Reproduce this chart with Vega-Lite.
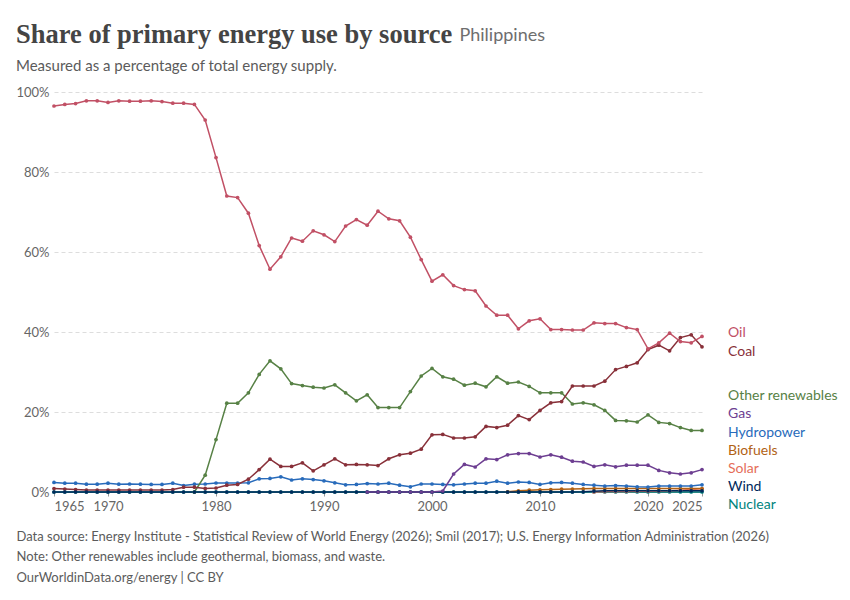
{
"$schema":"https://vega.github.io/schema/vega-lite/v6.json",
"width":648,"height":400,
"autosize":{"type":"none"},
"padding":{"left":54,"top":92,"right":148,"bottom":108},
"background":"white",
"config":{"view":{"stroke":null},"font":"Lato"},
"title":{"text":"Share of primary energy use by source","subtitle":"Measured as a percentage of total energy supply.","anchor":"start","frame":"group","dx":-38,"offset":-48,"font":"Liberation Serif","fontSize":26.5,"fontWeight":"bold","color":"#444444","subtitleFont":"Lato","subtitleFontSize":15,"subtitleColor":"#5b5b5b","subtitlePadding":11},
"data":{"values":[
{"source":"Nuclear","year":1965,"share":0},{"source":"Nuclear","year":1966,"share":0},{"source":"Nuclear","year":1967,"share":0},{"source":"Nuclear","year":1968,"share":0},{"source":"Nuclear","year":1969,"share":0},{"source":"Nuclear","year":1970,"share":0},{"source":"Nuclear","year":1971,"share":0},{"source":"Nuclear","year":1972,"share":0},{"source":"Nuclear","year":1973,"share":0},{"source":"Nuclear","year":1974,"share":0},{"source":"Nuclear","year":1975,"share":0},{"source":"Nuclear","year":1976,"share":0},{"source":"Nuclear","year":1977,"share":0},{"source":"Nuclear","year":1978,"share":0},{"source":"Nuclear","year":1979,"share":0},{"source":"Nuclear","year":1980,"share":0},{"source":"Nuclear","year":1981,"share":0},{"source":"Nuclear","year":1982,"share":0},{"source":"Nuclear","year":1983,"share":0},{"source":"Nuclear","year":1984,"share":0},{"source":"Nuclear","year":1985,"share":0},{"source":"Nuclear","year":1986,"share":0},{"source":"Nuclear","year":1987,"share":0},{"source":"Nuclear","year":1988,"share":0},{"source":"Nuclear","year":1989,"share":0},{"source":"Nuclear","year":1990,"share":0},{"source":"Nuclear","year":1991,"share":0},{"source":"Nuclear","year":1992,"share":0},{"source":"Nuclear","year":1993,"share":0},{"source":"Nuclear","year":1994,"share":0},{"source":"Nuclear","year":1995,"share":0},{"source":"Nuclear","year":1996,"share":0},{"source":"Nuclear","year":1997,"share":0},{"source":"Nuclear","year":1998,"share":0},{"source":"Nuclear","year":1999,"share":0},{"source":"Nuclear","year":2000,"share":0},{"source":"Nuclear","year":2001,"share":0},{"source":"Nuclear","year":2002,"share":0},{"source":"Nuclear","year":2003,"share":0},{"source":"Nuclear","year":2004,"share":0},{"source":"Nuclear","year":2005,"share":0},{"source":"Nuclear","year":2006,"share":0},{"source":"Nuclear","year":2007,"share":0},{"source":"Nuclear","year":2008,"share":0},{"source":"Nuclear","year":2009,"share":0},{"source":"Nuclear","year":2010,"share":0},{"source":"Nuclear","year":2011,"share":0},{"source":"Nuclear","year":2012,"share":0},{"source":"Nuclear","year":2013,"share":0},{"source":"Nuclear","year":2014,"share":0},{"source":"Nuclear","year":2015,"share":0},{"source":"Nuclear","year":2016,"share":0},{"source":"Nuclear","year":2017,"share":0},{"source":"Nuclear","year":2018,"share":0},{"source":"Nuclear","year":2019,"share":0},{"source":"Nuclear","year":2020,"share":0},{"source":"Nuclear","year":2021,"share":0},{"source":"Nuclear","year":2022,"share":0},{"source":"Nuclear","year":2023,"share":0},{"source":"Nuclear","year":2024,"share":0},{"source":"Nuclear","year":2025,"share":0},
{"source":"Solar","year":2015,"share":0.02},{"source":"Solar","year":2016,"share":0.1},{"source":"Solar","year":2017,"share":0.15},{"source":"Solar","year":2018,"share":0.15},{"source":"Solar","year":2019,"share":0.2},{"source":"Solar","year":2020,"share":0.2},{"source":"Solar","year":2021,"share":0.25},{"source":"Solar","year":2022,"share":0.3},{"source":"Solar","year":2023,"share":0.45},{"source":"Solar","year":2024,"share":0.6},{"source":"Solar","year":2025,"share":0.8},
{"source":"Biofuels","year":2007,"share":0.05},{"source":"Biofuels","year":2008,"share":0.3},{"source":"Biofuels","year":2009,"share":0.45},{"source":"Biofuels","year":2010,"share":0.55},{"source":"Biofuels","year":2011,"share":0.6},{"source":"Biofuels","year":2012,"share":0.7},{"source":"Biofuels","year":2013,"share":0.75},{"source":"Biofuels","year":2014,"share":0.8},{"source":"Biofuels","year":2015,"share":0.85},{"source":"Biofuels","year":2016,"share":0.85},{"source":"Biofuels","year":2017,"share":0.85},{"source":"Biofuels","year":2018,"share":0.9},{"source":"Biofuels","year":2019,"share":0.9},{"source":"Biofuels","year":2020,"share":0.85},{"source":"Biofuels","year":2021,"share":0.85},{"source":"Biofuels","year":2022,"share":0.85},{"source":"Biofuels","year":2023,"share":0.85},{"source":"Biofuels","year":2024,"share":0.85},{"source":"Biofuels","year":2025,"share":0.85},
{"source":"Hydropower","year":1965,"share":2.4},{"source":"Hydropower","year":1966,"share":2.2},{"source":"Hydropower","year":1967,"share":2.2},{"source":"Hydropower","year":1968,"share":1.95},{"source":"Hydropower","year":1969,"share":1.95},{"source":"Hydropower","year":1970,"share":2.2},{"source":"Hydropower","year":1971,"share":1.95},{"source":"Hydropower","year":1972,"share":2.0},{"source":"Hydropower","year":1973,"share":1.95},{"source":"Hydropower","year":1974,"share":1.9},{"source":"Hydropower","year":1975,"share":1.9},{"source":"Hydropower","year":1976,"share":2.2},{"source":"Hydropower","year":1977,"share":1.6},{"source":"Hydropower","year":1978,"share":1.95},{"source":"Hydropower","year":1979,"share":2.0},{"source":"Hydropower","year":1980,"share":2.25},{"source":"Hydropower","year":1981,"share":2.25},{"source":"Hydropower","year":1982,"share":2.25},{"source":"Hydropower","year":1983,"share":2.3},{"source":"Hydropower","year":1984,"share":3.3},{"source":"Hydropower","year":1985,"share":3.4},{"source":"Hydropower","year":1986,"share":3.8},{"source":"Hydropower","year":1987,"share":3.0},{"source":"Hydropower","year":1988,"share":3.3},{"source":"Hydropower","year":1989,"share":3.1},{"source":"Hydropower","year":1990,"share":2.8},{"source":"Hydropower","year":1991,"share":2.3},{"source":"Hydropower","year":1992,"share":1.8},{"source":"Hydropower","year":1993,"share":1.9},{"source":"Hydropower","year":1994,"share":2.1},{"source":"Hydropower","year":1995,"share":2.0},{"source":"Hydropower","year":1996,"share":2.2},{"source":"Hydropower","year":1997,"share":1.7},{"source":"Hydropower","year":1998,"share":1.3},{"source":"Hydropower","year":1999,"share":2.0},{"source":"Hydropower","year":2000,"share":2.0},{"source":"Hydropower","year":2001,"share":1.9},{"source":"Hydropower","year":2002,"share":1.8},{"source":"Hydropower","year":2003,"share":2.0},{"source":"Hydropower","year":2004,"share":2.2},{"source":"Hydropower","year":2005,"share":2.2},{"source":"Hydropower","year":2006,"share":2.7},{"source":"Hydropower","year":2007,"share":2.2},{"source":"Hydropower","year":2008,"share":2.5},{"source":"Hydropower","year":2009,"share":2.4},{"source":"Hydropower","year":2010,"share":1.9},{"source":"Hydropower","year":2011,"share":2.3},{"source":"Hydropower","year":2012,"share":2.4},{"source":"Hydropower","year":2013,"share":2.2},{"source":"Hydropower","year":2014,"share":1.9},{"source":"Hydropower","year":2015,"share":1.7},{"source":"Hydropower","year":2016,"share":1.5},{"source":"Hydropower","year":2017,"share":1.6},{"source":"Hydropower","year":2018,"share":1.5},{"source":"Hydropower","year":2019,"share":1.3},{"source":"Hydropower","year":2020,"share":1.25},{"source":"Hydropower","year":2021,"share":1.5},{"source":"Hydropower","year":2022,"share":1.5},{"source":"Hydropower","year":2023,"share":1.5},{"source":"Hydropower","year":2024,"share":1.5},{"source":"Hydropower","year":2025,"share":1.8},
{"source":"Other renewables","year":1978,"share":0},{"source":"Other renewables","year":1979,"share":4.2},{"source":"Other renewables","year":1980,"share":13.1},{"source":"Other renewables","year":1981,"share":22.2},{"source":"Other renewables","year":1982,"share":22.2},{"source":"Other renewables","year":1983,"share":24.8},{"source":"Other renewables","year":1984,"share":29.4},{"source":"Other renewables","year":1985,"share":32.8},{"source":"Other renewables","year":1986,"share":30.8},{"source":"Other renewables","year":1987,"share":27.1},{"source":"Other renewables","year":1988,"share":26.6},{"source":"Other renewables","year":1989,"share":26.2},{"source":"Other renewables","year":1990,"share":26.0},{"source":"Other renewables","year":1991,"share":26.8},{"source":"Other renewables","year":1992,"share":24.8},{"source":"Other renewables","year":1993,"share":22.8},{"source":"Other renewables","year":1994,"share":24.3},{"source":"Other renewables","year":1995,"share":21.1},{"source":"Other renewables","year":1996,"share":21.1},{"source":"Other renewables","year":1997,"share":21.1},{"source":"Other renewables","year":1998,"share":25.1},{"source":"Other renewables","year":1999,"share":29.0},{"source":"Other renewables","year":2000,"share":30.9},{"source":"Other renewables","year":2001,"share":28.8},{"source":"Other renewables","year":2002,"share":28.2},{"source":"Other renewables","year":2003,"share":26.7},{"source":"Other renewables","year":2004,"share":27.2},{"source":"Other renewables","year":2005,"share":26.3},{"source":"Other renewables","year":2006,"share":28.8},{"source":"Other renewables","year":2007,"share":27.2},{"source":"Other renewables","year":2008,"share":27.5},{"source":"Other renewables","year":2009,"share":26.4},{"source":"Other renewables","year":2010,"share":24.8},{"source":"Other renewables","year":2011,"share":24.8},{"source":"Other renewables","year":2012,"share":24.8},{"source":"Other renewables","year":2013,"share":22.0},{"source":"Other renewables","year":2014,"share":22.3},{"source":"Other renewables","year":2015,"share":21.8},{"source":"Other renewables","year":2016,"share":20.4},{"source":"Other renewables","year":2017,"share":17.9},{"source":"Other renewables","year":2018,"share":17.8},{"source":"Other renewables","year":2019,"share":17.5},{"source":"Other renewables","year":2020,"share":19.3},{"source":"Other renewables","year":2021,"share":17.4},{"source":"Other renewables","year":2022,"share":17.1},{"source":"Other renewables","year":2023,"share":16.1},{"source":"Other renewables","year":2024,"share":15.4},{"source":"Other renewables","year":2025,"share":15.4},
{"source":"Coal","year":1965,"share":0.85},{"source":"Coal","year":1966,"share":0.75},{"source":"Coal","year":1967,"share":0.6},{"source":"Coal","year":1968,"share":0.5},{"source":"Coal","year":1969,"share":0.5},{"source":"Coal","year":1970,"share":0.5},{"source":"Coal","year":1971,"share":0.5},{"source":"Coal","year":1972,"share":0.5},{"source":"Coal","year":1973,"share":0.5},{"source":"Coal","year":1974,"share":0.5},{"source":"Coal","year":1975,"share":0.5},{"source":"Coal","year":1976,"share":0.6},{"source":"Coal","year":1977,"share":1.2},{"source":"Coal","year":1978,"share":1.2},{"source":"Coal","year":1979,"share":0.9},{"source":"Coal","year":1980,"share":1.0},{"source":"Coal","year":1981,"share":1.7},{"source":"Coal","year":1982,"share":1.9},{"source":"Coal","year":1983,"share":3.2},{"source":"Coal","year":1984,"share":5.6},{"source":"Coal","year":1985,"share":8.2},{"source":"Coal","year":1986,"share":6.4},{"source":"Coal","year":1987,"share":6.4},{"source":"Coal","year":1988,"share":7.3},{"source":"Coal","year":1989,"share":5.3},{"source":"Coal","year":1990,"share":6.8},{"source":"Coal","year":1991,"share":8.3},{"source":"Coal","year":1992,"share":6.8},{"source":"Coal","year":1993,"share":6.9},{"source":"Coal","year":1994,"share":6.8},{"source":"Coal","year":1995,"share":6.6},{"source":"Coal","year":1996,"share":8.3},{"source":"Coal","year":1997,"share":9.3},{"source":"Coal","year":1998,"share":9.7},{"source":"Coal","year":1999,"share":10.7},{"source":"Coal","year":2000,"share":14.3},{"source":"Coal","year":2001,"share":14.4},{"source":"Coal","year":2002,"share":13.5},{"source":"Coal","year":2003,"share":13.5},{"source":"Coal","year":2004,"share":13.8},{"source":"Coal","year":2005,"share":16.4},{"source":"Coal","year":2006,"share":16.1},{"source":"Coal","year":2007,"share":16.7},{"source":"Coal","year":2008,"share":19.1},{"source":"Coal","year":2009,"share":18.1},{"source":"Coal","year":2010,"share":20.4},{"source":"Coal","year":2011,"share":22.3},{"source":"Coal","year":2012,"share":22.6},{"source":"Coal","year":2013,"share":26.5},{"source":"Coal","year":2014,"share":26.5},{"source":"Coal","year":2015,"share":26.5},{"source":"Coal","year":2016,"share":27.7},{"source":"Coal","year":2017,"share":30.6},{"source":"Coal","year":2018,"share":31.4},{"source":"Coal","year":2019,"share":32.3},{"source":"Coal","year":2020,"share":35.6},{"source":"Coal","year":2021,"share":36.7},{"source":"Coal","year":2022,"share":35.3},{"source":"Coal","year":2023,"share":38.6},{"source":"Coal","year":2024,"share":39.3},{"source":"Coal","year":2025,"share":36.3},
{"source":"Oil","year":1965,"share":96.5},{"source":"Oil","year":1966,"share":96.9},{"source":"Oil","year":1967,"share":97.1},{"source":"Oil","year":1968,"share":97.8},{"source":"Oil","year":1969,"share":97.8},{"source":"Oil","year":1970,"share":97.4},{"source":"Oil","year":1971,"share":97.8},{"source":"Oil","year":1972,"share":97.7},{"source":"Oil","year":1973,"share":97.7},{"source":"Oil","year":1974,"share":97.8},{"source":"Oil","year":1975,"share":97.6},{"source":"Oil","year":1976,"share":97.2},{"source":"Oil","year":1977,"share":97.2},{"source":"Oil","year":1978,"share":96.9},{"source":"Oil","year":1979,"share":93.0},{"source":"Oil","year":1980,"share":83.6},{"source":"Oil","year":1981,"share":74.0},{"source":"Oil","year":1982,"share":73.6},{"source":"Oil","year":1983,"share":69.7},{"source":"Oil","year":1984,"share":61.6},{"source":"Oil","year":1985,"share":55.7},{"source":"Oil","year":1986,"share":58.8},{"source":"Oil","year":1987,"share":63.5},{"source":"Oil","year":1988,"share":62.7},{"source":"Oil","year":1989,"share":65.3},{"source":"Oil","year":1990,"share":64.3},{"source":"Oil","year":1991,"share":62.6},{"source":"Oil","year":1992,"share":66.5},{"source":"Oil","year":1993,"share":68.1},{"source":"Oil","year":1994,"share":66.7},{"source":"Oil","year":1995,"share":70.2},{"source":"Oil","year":1996,"share":68.3},{"source":"Oil","year":1997,"share":67.8},{"source":"Oil","year":1998,"share":63.7},{"source":"Oil","year":1999,"share":58.1},{"source":"Oil","year":2000,"share":52.7},{"source":"Oil","year":2001,"share":54.3},{"source":"Oil","year":2002,"share":51.6},{"source":"Oil","year":2003,"share":50.6},{"source":"Oil","year":2004,"share":50.3},{"source":"Oil","year":2005,"share":46.5},{"source":"Oil","year":2006,"share":44.2},{"source":"Oil","year":2007,"share":44.2},{"source":"Oil","year":2008,"share":40.8},{"source":"Oil","year":2009,"share":42.8},{"source":"Oil","year":2010,"share":43.3},{"source":"Oil","year":2011,"share":40.6},{"source":"Oil","year":2012,"share":40.6},{"source":"Oil","year":2013,"share":40.5},{"source":"Oil","year":2014,"share":40.5},{"source":"Oil","year":2015,"share":42.3},{"source":"Oil","year":2016,"share":42.1},{"source":"Oil","year":2017,"share":42.1},{"source":"Oil","year":2018,"share":41.1},{"source":"Oil","year":2019,"share":40.6},{"source":"Oil","year":2020,"share":35.8},{"source":"Oil","year":2021,"share":37.3},{"source":"Oil","year":2022,"share":39.7},{"source":"Oil","year":2023,"share":37.6},{"source":"Oil","year":2024,"share":37.3},{"source":"Oil","year":2025,"share":38.9},
{"source":"Wind","year":1965,"share":0},{"source":"Wind","year":1966,"share":0},{"source":"Wind","year":1967,"share":0},{"source":"Wind","year":1968,"share":0},{"source":"Wind","year":1969,"share":0},{"source":"Wind","year":1970,"share":0},{"source":"Wind","year":1971,"share":0},{"source":"Wind","year":1972,"share":0},{"source":"Wind","year":1973,"share":0},{"source":"Wind","year":1974,"share":0},{"source":"Wind","year":1975,"share":0},{"source":"Wind","year":1976,"share":0},{"source":"Wind","year":1977,"share":0},{"source":"Wind","year":1978,"share":0},{"source":"Wind","year":1979,"share":0},{"source":"Wind","year":1980,"share":0},{"source":"Wind","year":1981,"share":0},{"source":"Wind","year":1982,"share":0},{"source":"Wind","year":1983,"share":0},{"source":"Wind","year":1984,"share":0},{"source":"Wind","year":1985,"share":0},{"source":"Wind","year":1986,"share":0},{"source":"Wind","year":1987,"share":0},{"source":"Wind","year":1988,"share":0},{"source":"Wind","year":1989,"share":0},{"source":"Wind","year":1990,"share":0},{"source":"Wind","year":1991,"share":0},{"source":"Wind","year":1992,"share":0},{"source":"Wind","year":1993,"share":0},{"source":"Wind","year":1994,"share":0},{"source":"Wind","year":1995,"share":0},{"source":"Wind","year":1996,"share":0},{"source":"Wind","year":1997,"share":0},{"source":"Wind","year":1998,"share":0},{"source":"Wind","year":1999,"share":0},{"source":"Wind","year":2000,"share":0},{"source":"Wind","year":2001,"share":0},{"source":"Wind","year":2002,"share":0},{"source":"Wind","year":2003,"share":0},{"source":"Wind","year":2004,"share":0},{"source":"Wind","year":2005,"share":0},{"source":"Wind","year":2006,"share":0},{"source":"Wind","year":2007,"share":0},{"source":"Wind","year":2008,"share":0.01},{"source":"Wind","year":2009,"share":0.01},{"source":"Wind","year":2010,"share":0.01},{"source":"Wind","year":2011,"share":0.01},{"source":"Wind","year":2012,"share":0.01},{"source":"Wind","year":2013,"share":0.01},{"source":"Wind","year":2014,"share":0.05},{"source":"Wind","year":2015,"share":0.2},{"source":"Wind","year":2016,"share":0.3},{"source":"Wind","year":2017,"share":0.3},{"source":"Wind","year":2018,"share":0.3},{"source":"Wind","year":2019,"share":0.3},{"source":"Wind","year":2020,"share":0.3},{"source":"Wind","year":2021,"share":0.3},{"source":"Wind","year":2022,"share":0.3},{"source":"Wind","year":2023,"share":0.3},{"source":"Wind","year":2024,"share":0.3},{"source":"Wind","year":2025,"share":0.3},
{"source":"Gas","year":1994,"share":0},{"source":"Gas","year":1995,"share":0},{"source":"Gas","year":1996,"share":0},{"source":"Gas","year":1997,"share":0},{"source":"Gas","year":1998,"share":0},{"source":"Gas","year":1999,"share":0},{"source":"Gas","year":2000,"share":0},{"source":"Gas","year":2001,"share":0.25},{"source":"Gas","year":2002,"share":4.5},{"source":"Gas","year":2003,"share":6.9},{"source":"Gas","year":2004,"share":6.25},{"source":"Gas","year":2005,"share":8.3},{"source":"Gas","year":2006,"share":8.1},{"source":"Gas","year":2007,"share":9.3},{"source":"Gas","year":2008,"share":9.6},{"source":"Gas","year":2009,"share":9.6},{"source":"Gas","year":2010,"share":8.75},{"source":"Gas","year":2011,"share":9.3},{"source":"Gas","year":2012,"share":8.7},{"source":"Gas","year":2013,"share":7.7},{"source":"Gas","year":2014,"share":7.5},{"source":"Gas","year":2015,"share":6.4},{"source":"Gas","year":2016,"share":6.8},{"source":"Gas","year":2017,"share":6.3},{"source":"Gas","year":2018,"share":6.7},{"source":"Gas","year":2019,"share":6.7},{"source":"Gas","year":2020,"share":6.7},{"source":"Gas","year":2021,"share":5.4},{"source":"Gas","year":2022,"share":4.8},{"source":"Gas","year":2023,"share":4.5},{"source":"Gas","year":2024,"share":4.8},{"source":"Gas","year":2025,"share":5.6}
]},
"encoding":{
 "x":{"field":"year","type":"quantitative","scale":{"domain":[1965,2025],"nice":false,"zero":false}},
 "y":{"field":"share","type":"quantitative","scale":{"domain":[0,100],"nice":false}},
 "color":{"field":"source","type":"nominal","legend":null,"scale":{"domain":["Oil","Coal","Other renewables","Gas","Hydropower","Biofuels","Solar","Wind","Nuclear"],"range":["#C15065","#883039","#578145","#6D3E91","#286BBB","#B16214","#E56E5A","#00295B","#00847E"]}}
},
"layer":[
 {"mark":{"type":"line","strokeWidth":1.5,"point":{"filled":true,"size":14}},
  "encoding":{
   "x":{"field":"year","type":"quantitative","scale":{"domain":[1965,2025],"nice":false,"zero":false},
     "axis":{"values":[1965,1970,1980,1990,2000,2010,2020,2025],"format":"d","labelFlush":true,"grid":false,"domainColor":"#999999","tickColor":"#999999","tickSize":4,"labelFont":"Lato","labelFontSize":13,"labelColor":"#666666","labelPadding":4,
       "title":["Data source: Energy Institute - Statistical Review of World Energy (2026); Smil (2017); U.S. Energy Information Administration (2026)","Note: Other renewables include geothermal, biomass, and waste.","OurWorldinData.org/energy | CC BY"],
       "titleAnchor":"start","titleAlign":"left","titleX":-38,"titleY":48,"titleBaseline":"alphabetic","titleFont":"Lato","titleFontSize":13,"titleFontWeight":"normal","titleColor":"#5b5b5b","titleLineHeight":20.5}},
   "y":{"field":"share","type":"quantitative","scale":{"domain":[0,100],"nice":false},
     "axis":{"values":[0,20,40,60,80,100],"labelExpr":"datum.value + '%'","grid":true,"gridDash":[4,3],"gridColor":"#dddddd","domain":false,"ticks":false,"labelFont":"Lato","labelFontSize":13,"labelColor":"#666666","labelPadding":5,
       "title":"Philippines","titleAngle":0,"titleX":405,"titleY":-52,"titleAlign":"left","titleBaseline":"alphabetic","titleFont":"Lato","titleFontSize":18,"titleFontWeight":"normal","titleColor":"#6e6e6e"}}
  }},
 {"transform":[{"filter":"datum.year == 2025 && datum.source == 'Oil'"}],"mark":{"type":"text","align":"left","baseline":"middle","dx":26,"dy":-3.4,"fontSize":14,"font":"Lato"},"encoding":{"text":{"field":"source"}}},
 {"transform":[{"filter":"datum.year == 2025 && datum.source == 'Coal'"}],"mark":{"type":"text","align":"left","baseline":"middle","dx":26,"dy":4.8,"fontSize":14,"font":"Lato"},"encoding":{"text":{"field":"source"}}},
 {"transform":[{"filter":"datum.year == 2025 && datum.source == 'Other renewables'"}],"mark":{"type":"text","align":"left","baseline":"middle","dx":26,"dy":-34.4,"fontSize":14,"font":"Lato"},"encoding":{"text":{"field":"source"}}},
 {"transform":[{"filter":"datum.year == 2025 && datum.source == 'Gas'"}],"mark":{"type":"text","align":"left","baseline":"middle","dx":26,"dy":-55.3,"fontSize":14,"font":"Lato"},"encoding":{"text":{"field":"source"}}},
 {"transform":[{"filter":"datum.year == 2025 && datum.source == 'Hydropower'"}],"mark":{"type":"text","align":"left","baseline":"middle","dx":26,"dy":-52.2,"fontSize":14,"font":"Lato"},"encoding":{"text":{"field":"source"}}},
 {"transform":[{"filter":"datum.year == 2025 && datum.source == 'Biofuels'"}],"mark":{"type":"text","align":"left","baseline":"middle","dx":26,"dy":-38,"fontSize":14,"font":"Lato"},"encoding":{"text":{"field":"source"}}},
 {"transform":[{"filter":"datum.year == 2025 && datum.source == 'Solar'"}],"mark":{"type":"text","align":"left","baseline":"middle","dx":26,"dy":-19.5,"fontSize":14,"font":"Lato"},"encoding":{"text":{"field":"source"}}},
 {"transform":[{"filter":"datum.year == 2025 && datum.source == 'Wind'"}],"mark":{"type":"text","align":"left","baseline":"middle","dx":26,"dy":-3.5,"fontSize":14,"font":"Lato"},"encoding":{"text":{"field":"source"}}},
 {"transform":[{"filter":"datum.year == 2025 && datum.source == 'Nuclear'"}],"mark":{"type":"text","align":"left","baseline":"middle","dx":26,"dy":13.3,"fontSize":14,"font":"Lato"},"encoding":{"text":{"field":"source"}}}
]
}
